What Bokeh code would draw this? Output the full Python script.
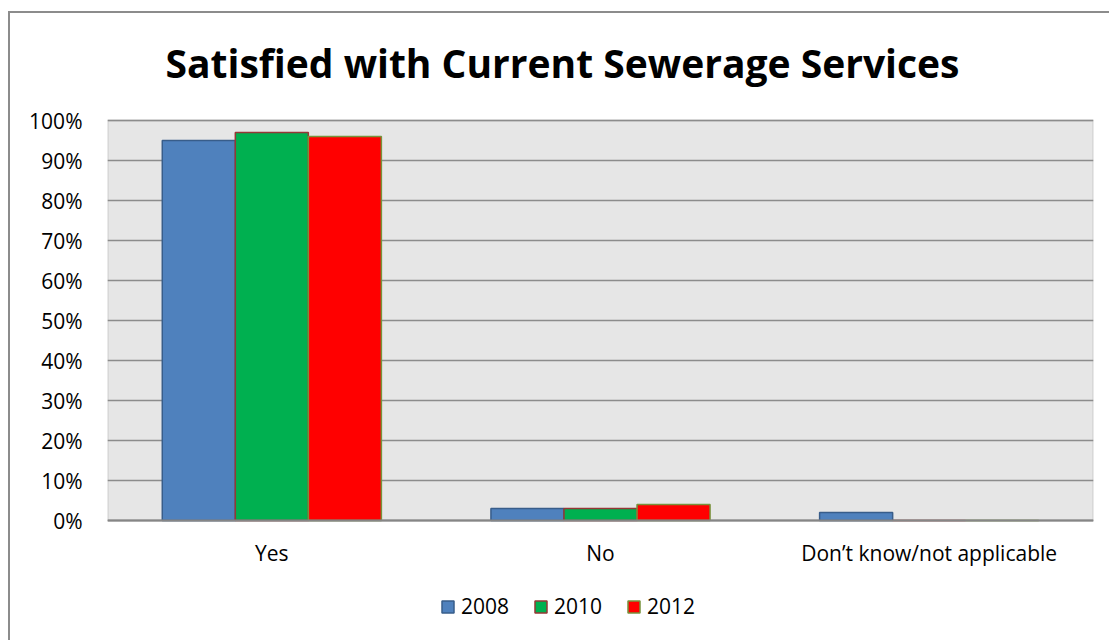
from bokeh.plotting import figure
from bokeh.models import (FactorRange, ColumnDataSource, NumeralTickFormatter, FixedTicker,
                          Legend, LegendItem, Label, BoxAnnotation)
from bokeh.transform import dodge
from bokeh.embed import file_html
from bokeh.resources import INLINE

# Survey responses (share of respondents)
categories = ["Yes", "No", "Don\u2019t know/not applicable"]
years = ["2008", "2010", "2012"]
share_2008 = [0.95, 0.03, 0.02]
share_2010 = [0.97, 0.03, 0.0]
share_2012 = [0.96, 0.04, 0.0]
y_ticks = [0.0, 0.1, 0.2, 0.3, 0.4, 0.5, 0.6, 0.7, 0.8, 0.9, 1.0]

fills = ["#4F81BD", "#00B050", "#FF0000"]
edges = ["#385D8A", "#953735", "#77933C"]

source = ColumnDataSource(dict(cat=categories, y2008=share_2008,
                               y2010=share_2010, y2012=share_2012))

FONT = "Open Sans"
W, H = 1109, 640

# the frame spans the full height; title and legend sit inside it, above and below the 0-100% area
p = figure(width=W, height=H, x_range=FactorRange(*categories, range_padding=0),
           y_range=(-0.3, 1.3), output_backend="svg", toolbar_location=None,
           min_border_left=107, min_border_right=16, min_border_top=0,
           min_border_bottom=0)
p.x_range.factor_padding = 0

p.background_fill_color = None
p.border_fill_color = None
p.outline_line_color = None

# page background with the chart's outer border on its left and top sides
p.styles = {
    "background": ("linear-gradient(#8C8C8C, #8C8C8C) 8px 11px / 2px 100% no-repeat, "
                   "linear-gradient(#8C8C8C, #8C8C8C) 8px 11px / 100% 2px no-repeat, white"),
}

# grey plot area for 0-100%
p.add_layout(BoxAnnotation(bottom=0, top=1, fill_color="#E6E6E6", fill_alpha=1,
                           line_color="#8C8C8C", line_width=2, level="image"))

bar_w = 1 / 4.5
renderers = []
for i, (yr, col) in enumerate(zip(years, ["y2008", "y2010", "y2012"])):
    r = p.vbar(x=dodge("cat", (i - 1) * bar_w, range=p.x_range), top=col,
               width=bar_w, source=source, fill_color=fills[i],
               line_color=edges[i], line_width=1.5)
    renderers.append(r)

# axes
p.yaxis.ticker = FixedTicker(ticks=y_ticks)
p.yaxis.formatter = NumeralTickFormatter(format="0%")
p.yaxis.major_label_text_font = FONT
p.yaxis.major_label_text_font_size = "21px"
p.yaxis.major_label_text_color = "black"
p.yaxis.major_tick_line_color = None
p.yaxis.minor_tick_line_color = None
p.yaxis.axis_line_color = None
p.yaxis.major_label_standoff = 19

p.xaxis.fixed_location = 0
p.xaxis.major_label_text_font = FONT
p.xaxis.major_label_text_font_size = "21px"
p.xaxis.major_label_text_color = "black"
p.xaxis.major_tick_line_color = None
p.xaxis.axis_line_color = "#868686"
p.xaxis.axis_line_width = 2
p.xaxis.major_label_standoff = 12

p.xgrid.grid_line_color = None
p.ygrid.ticker = FixedTicker(ticks=y_ticks)
p.ygrid.grid_line_color = "#8C8C8C"
p.ygrid.grid_line_width = 1.5

# title, placed in pixels relative to the frame's bottom-left corner
p.add_layout(Label(x=455, y=578, x_units="screen", y_units="screen",
                   text="Satisfied with Current Sewerage Services",
                   text_font=FONT, text_font_style="bold", text_font_size="39px",
                   text_align="center", text_baseline="middle", text_color="black"))

legend = Legend(items=[LegendItem(label=y, renderers=[r]) for y, r in zip(years, renderers)],
                orientation="horizontal", location=(333, 20),
                glyph_width=15, glyph_height=15, label_standoff=6, spacing=24,
                label_text_font=FONT, label_text_font_size="21px", label_text_color="black",
                border_line_color=None, background_fill_alpha=0, padding=0, margin=0)
p.add_layout(legend)

open("out.html", "w").write(file_html(p, INLINE))
